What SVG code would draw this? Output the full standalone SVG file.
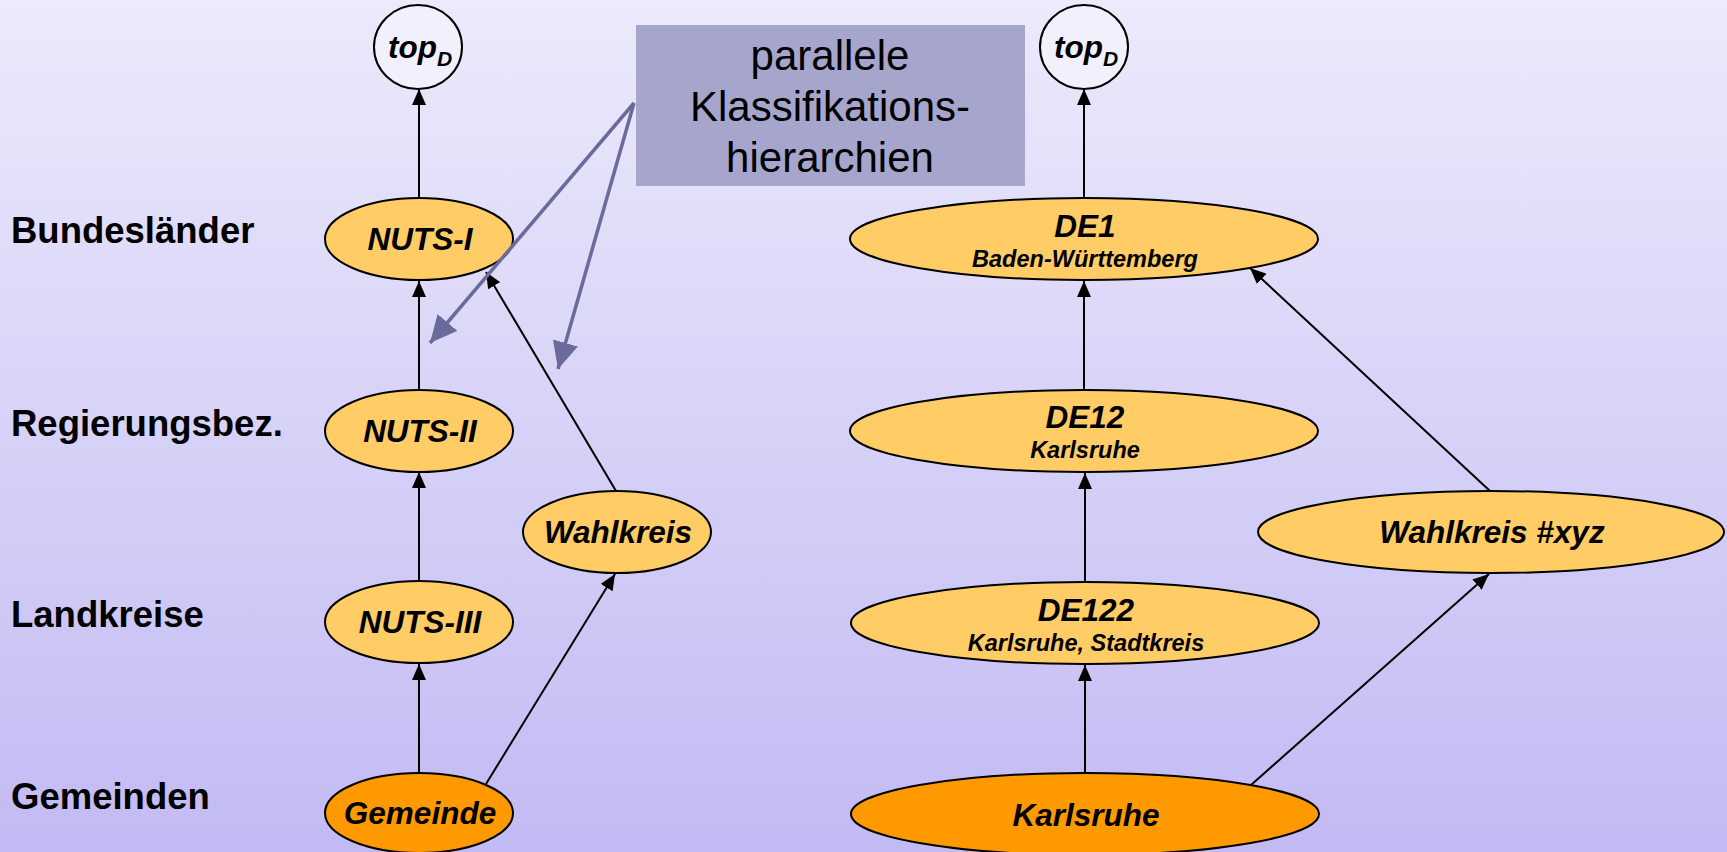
<svg xmlns="http://www.w3.org/2000/svg" width="1727" height="852" viewBox="0 0 1727 852">
<defs>
<linearGradient id="bg" x1="0" y1="0" x2="0" y2="1">
<stop offset="0" stop-color="#ECEAFB"/>
<stop offset="1" stop-color="#C2BAF3"/>
</linearGradient>
<marker id="ah" markerUnits="userSpaceOnUse" markerWidth="16" markerHeight="14" refX="16" refY="7" orient="auto">
<path d="M0,0 L16,7 L0,14 z" fill="#000"/>
</marker>
<marker id="ahb" markerUnits="userSpaceOnUse" markerWidth="27" markerHeight="26" refX="27" refY="13" orient="auto">
<path d="M0,0 L27,13 L0,26 z" fill="#6A6A9C"/>
</marker>
</defs>
<style>
.lvl{font-family:"Liberation Sans",Arial,sans-serif;font-weight:bold;font-size:36.5px;fill:#000}
.nd{stroke:#000;stroke-width:2}
.lo{fill:#FFCC66}
.dk{fill:#FF9900}
.top{fill:#F2F0FC}
.t{font-family:"Liberation Sans",Arial,sans-serif;font-weight:bold;font-style:italic;font-size:31.5px;fill:#000;text-anchor:middle}
.s{font-family:"Liberation Sans",Arial,sans-serif;font-weight:bold;font-style:italic;font-size:23.5px;fill:#000;text-anchor:middle}
.c{stroke:#000;stroke-width:2;fill:none;marker-end:url(#ah)}
.cb{stroke:#6A6A9C;stroke-width:3.5;fill:none;marker-end:url(#ahb)}
.box{font-family:"Liberation Sans",Arial,sans-serif;font-size:42px;fill:#000;text-anchor:middle}
</style>
<rect x="0" y="0" width="1727" height="852" fill="url(#bg)"/>

<g id="labels">
<text class="lvl" x="11" y="243">Bundesländer</text>
<text class="lvl" x="11" y="436">Regierungsbez.</text>
<text class="lvl" x="11" y="627">Landkreise</text>
<text class="lvl" x="11" y="809">Gemeinden</text>
</g>

<g id="topD-left">
<ellipse class="nd top" cx="418" cy="47" rx="44" ry="42"/>
<text class="t" x="420" y="58" font-size="30">top<tspan font-size="21" dy="8">D</tspan></text>
</g>
<g id="nuts1">
<ellipse class="nd lo" cx="419" cy="239" rx="94" ry="41"/>
<text class="t" x="420" y="250">NUTS-I</text>
</g>
<g id="nuts2">
<ellipse class="nd lo" cx="419" cy="431" rx="94" ry="41"/>
<text class="t" x="420" y="442">NUTS-II</text>
</g>
<g id="nuts3">
<ellipse class="nd lo" cx="419" cy="622" rx="94" ry="41"/>
<text class="t" x="420" y="633">NUTS-III</text>
</g>
<g id="gemeinde">
<ellipse class="nd dk" cx="419" cy="813" rx="94" ry="40"/>
<text class="t" x="420" y="824">Gemeinde</text>
</g>
<g id="wahlkreis">
<ellipse class="nd lo" cx="617" cy="532" rx="94" ry="41"/>
<text class="t" x="618" y="543">Wahlkreis</text>
</g>

<g id="topD-right">
<ellipse class="nd top" cx="1084" cy="47" rx="44" ry="42"/>
<text class="t" x="1086" y="58" font-size="30">top<tspan font-size="21" dy="8">D</tspan></text>
</g>
<g id="de1">
<ellipse class="nd lo" cx="1084" cy="239" rx="234" ry="41"/>
<text class="t" x="1085" y="237">DE1</text>
<text class="s" x="1085" y="267">Baden-Württemberg</text>
</g>
<g id="de12">
<ellipse class="nd lo" cx="1084" cy="431" rx="234" ry="41"/>
<text class="t" x="1085" y="428">DE12</text>
<text class="s" x="1085" y="458">Karlsruhe</text>
</g>
<g id="de122">
<ellipse class="nd lo" cx="1085" cy="623" rx="234" ry="41"/>
<text class="t" x="1086" y="621">DE122</text>
<text class="s" x="1086" y="651">Karlsruhe, Stadtkreis</text>
</g>
<g id="karlsruhe">
<ellipse class="nd dk" cx="1085" cy="814" rx="234" ry="41"/>
<text class="t" x="1086" y="826">Karlsruhe</text>
</g>
<g id="wahlkreis-xyz">
<ellipse class="nd lo" cx="1491" cy="532" rx="233" ry="41"/>
<text class="t" x="1492" y="543">Wahlkreis #xyz</text>
</g>

<g id="connectors">
<line class="c" x1="419" y1="198" x2="419" y2="89"/>
<line class="c" x1="419" y1="390" x2="419" y2="281"/>
<line class="c" x1="419" y1="581" x2="419" y2="472"/>
<line class="c" x1="419" y1="773" x2="419" y2="664"/>
<line class="c" x1="486" y1="784" x2="615" y2="574"/>
<line class="c" x1="616" y1="491" x2="486" y2="272"/>
<line class="c" x1="1084" y1="198" x2="1084" y2="89"/>
<line class="c" x1="1084" y1="390" x2="1084" y2="281"/>
<line class="c" x1="1085" y1="582" x2="1085" y2="473"/>
<line class="c" x1="1085" y1="773" x2="1085" y2="665"/>
<line class="c" x1="1251" y1="785" x2="1489" y2="574"/>
<line class="c" x1="1490" y1="491" x2="1250" y2="268"/>
</g>

<g id="callout">
<rect x="636" y="25" width="389" height="161" fill="#A6A6CC"/>
<text class="box" x="830" y="70">parallele</text>
<text class="box" x="830" y="121">Klassifikations-</text>
<text class="box" x="830" y="172">hierarchien</text>
</g>
<g id="callout-connectors">
<line class="cb" x1="634" y1="103" x2="430" y2="343"/>
<line class="cb" x1="634" y1="103" x2="558" y2="369"/>
</g>
</svg>
